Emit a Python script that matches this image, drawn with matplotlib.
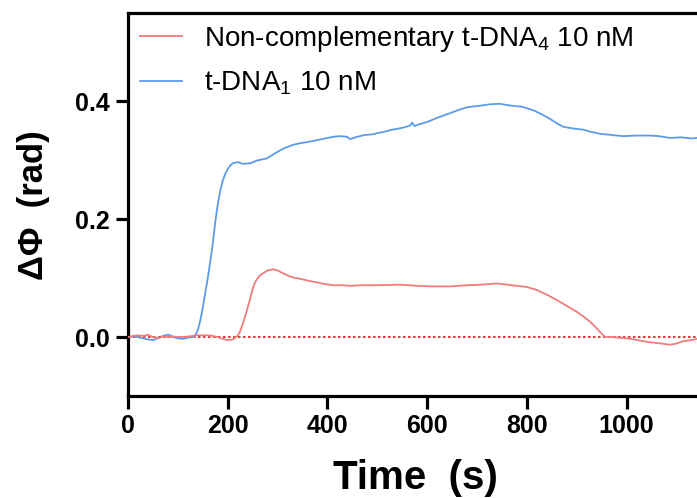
import matplotlib
matplotlib.use("Agg")
import matplotlib.pyplot as plt

plt.rcParams['font.family'] = ['Liberation Sans', 'DejaVu Sans']
plt.rcParams['mathtext.fontset'] = 'custom'
plt.rcParams['mathtext.rm'] = 'Liberation Sans'
plt.rcParams['mathtext.it'] = 'Liberation Sans:italic'
plt.rcParams['mathtext.bf'] = 'Liberation Sans:bold'

# t-DNA1 10 nM response
t_comp = [0, 10, 20, 30, 40, 50, 60, 70, 80, 85, 90, 100, 110, 120, 130,
          135, 140, 145, 150, 155, 160, 165, 170, 175, 180, 185, 190, 195,
          200, 205, 210, 220, 230, 245, 260, 278, 295, 312, 330, 345, 360,
          378, 395, 412, 425, 439, 445, 460, 475, 490, 505, 512, 530, 550,
          566, 570, 575, 580, 600, 620, 646, 665, 680, 700, 726, 745, 766,
          790, 813, 830, 847, 860, 873, 893, 913, 930, 947, 970, 993, 1020,
          1047, 1065, 1087, 1110, 1130, 1150, 1170]
phi_comp = [0.000, 0.001, 0.000, -0.002, -0.004, -0.005, -0.002, 0.002, 0.004, 0.003,
            0.000, -0.002, -0.003, -0.001, 0.000,
            0.003, 0.012, 0.028, 0.050, 0.075, 0.100, 0.128, 0.158, 0.195, 0.225,
            0.248, 0.265, 0.277, 0.285, 0.291, 0.295, 0.297, 0.294, 0.295, 0.300,
            0.303, 0.312, 0.320, 0.326, 0.329, 0.331, 0.334, 0.337, 0.340, 0.341,
            0.340, 0.336, 0.340, 0.343, 0.344, 0.347, 0.348, 0.352, 0.355, 0.359,
            0.364, 0.358, 0.360, 0.365, 0.372, 0.380, 0.386, 0.390, 0.392, 0.395,
            0.396, 0.393, 0.391, 0.385, 0.378, 0.370, 0.363, 0.357, 0.354, 0.352,
            0.348, 0.345, 0.343, 0.341, 0.342, 0.342, 0.341, 0.338, 0.339, 0.337,
            0.339, 0.338]

# Non-complementary t-DNA4 10 nM response
t_ctrl = [0, 10, 20, 30, 40, 50, 60, 70, 80, 90, 100, 110, 120, 130, 140, 150,
          160, 170, 180, 190, 200, 210, 215, 220, 225, 230, 235, 240, 245, 250,
          255, 260, 265, 272, 280, 292, 300, 312, 322, 332, 350, 365, 378, 395,
          412, 430, 445, 470, 500, 546, 580, 610, 646, 680, 710, 740, 760, 780,
          800, 820, 840, 860, 880, 900, 915, 927, 940, 950, 957, 970, 985, 1000,
          1015, 1033, 1050, 1070, 1087, 1100, 1114, 1130, 1141, 1170]
phi_ctrl = [0.000, 0.002, 0.003, 0.002, 0.004, 0.000, -0.002, 0.001, 0.000, 0.001,
            0.000, 0.000, 0.001, 0.002, 0.003, 0.003, 0.003, 0.002, 0.000, -0.003,
            -0.005, -0.004, -0.001, 0.002, 0.010, 0.022, 0.035, 0.050, 0.065, 0.082,
            0.093, 0.100, 0.105, 0.109, 0.113, 0.115, 0.113, 0.108, 0.104, 0.101,
            0.098, 0.095, 0.093, 0.090, 0.088, 0.088, 0.087, 0.088, 0.088, 0.089,
            0.087, 0.086, 0.086, 0.088, 0.089, 0.091, 0.089, 0.087, 0.085, 0.080,
            0.072, 0.063, 0.053, 0.043, 0.034, 0.026, 0.015, 0.006, 0.000, 0.000,
            -0.001, -0.002, -0.004, -0.007, -0.009, -0.011, -0.013, -0.011, -0.007,
            -0.005, -0.003, -0.002]

x_ticks = [0, 200, 400, 600, 800, 1000]
y_ticks = [0.0, 0.2, 0.4]
y_ticklabels = ['0.0', '0.2', '0.4']

red = '#F07C7C'
blue = '#5B9BEA'

W, H = 697, 498
fig = plt.figure(figsize=(W / 100, H / 100), dpi=100)
ax_left, ax_top, ax_bottom = 128, 13, 396
px_per_unit = 0.4985
ax_w = 1200 * px_per_unit
ax_h = ax_bottom - ax_top
ax = fig.add_axes([ax_left / W, 1 - ax_bottom / H, ax_w / W, ax_h / H])

ax.axhline(0, color='#E01010', lw=1.2, ls=(0, (1.5, 1.5)), zorder=1)
ax.plot(t_ctrl, phi_ctrl, color=red, lw=1.3,
        label='Non-complementary t-DNA$_4$ 10 nM', zorder=3)
ax.plot(t_comp, phi_comp, color=blue, lw=1.3,
        label='t-DNA$_1$ 10 nM', zorder=2)

ax.set_xlim(0, 1200)
ax.set_ylim(-0.1, 0.55)
ax.set_xticks(x_ticks)
ax.set_yticks(y_ticks)
ax.set_yticklabels(y_ticklabels)

for s in ['left', 'bottom', 'top', 'right']:
    ax.spines[s].set_linewidth(2.3)
ax.tick_params(direction='out', length=9, width=2.3, labelsize=18, pad=4)
for lab in ax.get_xticklabels() + ax.get_yticklabels():
    lab.set_fontweight('bold')

ax.set_xlabel('Time  (s)', fontsize=29, fontweight='bold')
ax.xaxis.set_label_coords((415 - ax_left) / ax_w, -(478 - ax_bottom) / ax_h)
ax.xaxis.label.set_va('center')
ax.set_ylabel('ΔΦ  (rad)', fontsize=25, fontweight='bold')
ax.yaxis.set_label_coords(-(ax_left - 33) / ax_w, (ax_bottom - 205) / ax_h)
ax.yaxis.label.set_va('center')

leg = ax.legend(loc='upper left', frameon=False, fontsize=20, handlelength=1.5,
                handletextpad=0.8, labelspacing=0.57, borderpad=0, borderaxespad=0,
                bbox_to_anchor=((140 - ax_left) / ax_w, (ax_bottom - 24) / ax_h))

fig.savefig('out.png', dpi=100)
